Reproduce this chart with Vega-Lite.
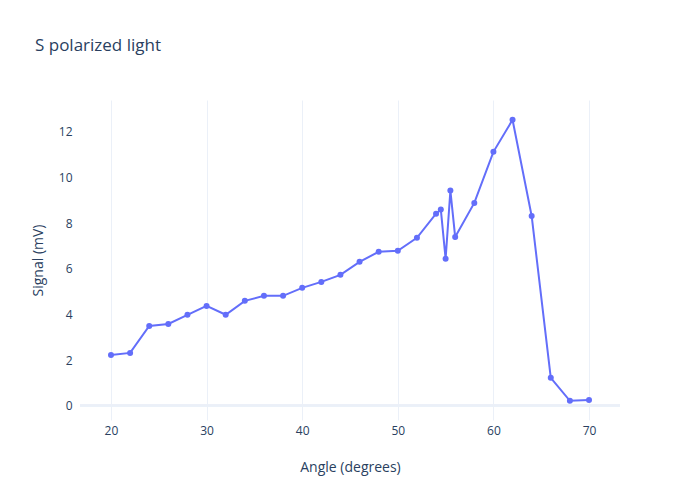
{
  "$schema": "https://vega.github.io/schema/vega-lite/v6.json",
  "width": 540,
  "height": 320,
  "autosize": "none",
  "padding": {"left": 80, "top": 100, "right": 80, "bottom": 80},
  "background": "white",
  "title": {
    "text": "S polarized light",
    "anchor": "start",
    "frame": "group",
    "dx": -45,
    "offset": 45,
    "font": "Open Sans",
    "fontSize": 17,
    "fontWeight": "normal",
    "color": "#2a3f5f"
  },
  "config": {
    "view": {"stroke": null},
    "axis": {
      "labelFont": "Open Sans",
      "labelFontSize": 12,
      "labelColor": "#2a3f5f",
      "titleFont": "Open Sans",
      "titleFontSize": 14,
      "titleFontWeight": "normal",
      "titleColor": "#2a3f5f",
      "domain": false,
      "ticks": false,
      "gridColor": "#ebf0f8",
      "gridWidth": 1
    }
  },
  "data": {
    "values": [
      {"angle": 20, "signal": 2.23},
      {"angle": 22, "signal": 2.32},
      {"angle": 24, "signal": 3.5},
      {"angle": 26, "signal": 3.59},
      {"angle": 28, "signal": 3.99},
      {"angle": 30, "signal": 4.38},
      {"angle": 32, "signal": 3.99},
      {"angle": 34, "signal": 4.6},
      {"angle": 36, "signal": 4.82},
      {"angle": 38, "signal": 4.82},
      {"angle": 40, "signal": 5.17},
      {"angle": 42, "signal": 5.43},
      {"angle": 44, "signal": 5.74},
      {"angle": 46, "signal": 6.31},
      {"angle": 48, "signal": 6.75},
      {"angle": 50, "signal": 6.79},
      {"angle": 52, "signal": 7.36},
      {"angle": 54, "signal": 8.42},
      {"angle": 54.5, "signal": 8.6},
      {"angle": 55, "signal": 6.44},
      {"angle": 55.5, "signal": 9.43},
      {"angle": 56, "signal": 7.4},
      {"angle": 58, "signal": 8.89},
      {"angle": 60, "signal": 11.13},
      {"angle": 62, "signal": 12.53},
      {"angle": 64, "signal": 8.32},
      {"angle": 66, "signal": 1.23},
      {"angle": 68, "signal": 0.22},
      {"angle": 70, "signal": 0.26}
    ]
  },
  "layer": [
    {
      "mark": {"type": "rule", "color": "#ebf0f8", "strokeWidth": 2},
      "encoding": {"y": {"datum": 0, "type": "quantitative"}}
    },
    {
      "mark": {"type": "line", "color": "#636efa", "strokeWidth": 2, "point": {"filled": true, "size": 36, "color": "#636efa", "opacity": 1}},
      "encoding": {
        "x": {
          "field": "angle",
          "type": "quantitative",
          "scale": {"domain": [16.76, 73.24], "nice": false, "zero": false},
          "axis": {"values": [20, 30, 40, 50, 60, 70], "title": "Angle (degrees)", "labelPadding": 5, "titleY": 47, "titleBaseline": "middle"}
        },
        "y": {
          "field": "signal",
          "type": "quantitative",
          "scale": {"domain": [-0.62, 13.4], "nice": false, "zero": false},
          "axis": {"values": [0, 2, 4, 6, 8, 10, 12], "title": "Signal (mV)", "labelPadding": 8, "titleX": -42, "titleBaseline": "middle"}
        }
      }
    }
  ]
}
